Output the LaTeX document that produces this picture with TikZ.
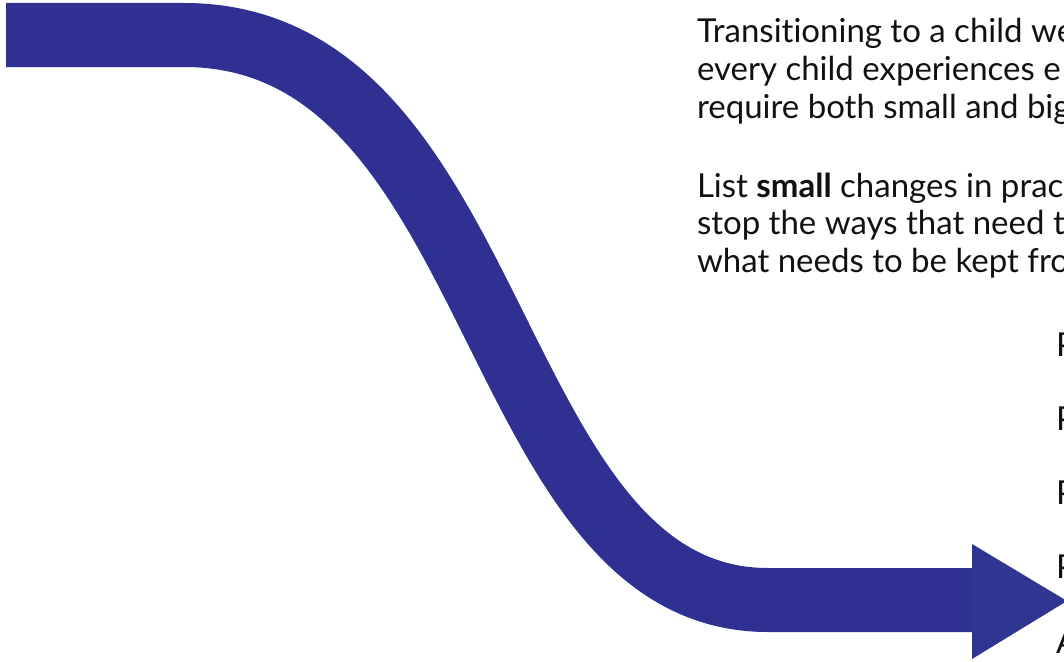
\documentclass[tikz,border=0pt]{standalone}
\usepackage{fontspec}
\setmainfont[Ligatures=NoCommon]{Lato}
\definecolor{band}{HTML}{2E3192}
\definecolor{head}{HTML}{2E3692}
\definecolor{ink}{HTML}{111111}
\begin{document}
\begin{tikzpicture}[x=1pt,y=-1pt,
  txt/.style={anchor=base west,inner sep=0pt,outer sep=0pt,text=ink,font=\fontsize{33}{39}\selectfont},
  side/.style={txt}]
\useasboundingbox (0,0) rectangle (1064,661);
% the S-shaped band
\coordinate (s0) at (6,35);
\coordinate (s1) at (184,35);
\coordinate (s2) at (768,600);
\coordinate (s3) at (973,600);
\draw[band,line width=64pt,line cap=butt] (s0) -- (s1) .. controls (505,35) and (485,600) .. (s2) -- (s3);
% arrow head
\coordinate (h1) at (972,544);
\coordinate (h2) at (1067,601);
\coordinate (h3) at (972,659);
\fill[head] (h1) -- (h2) -- (h3) -- cycle;
% text
\node[txt] (l1) at (697,43) {Transitioning to a child we};
\node[txt] (l2) at (697,80.5) {every child experiences e};
\node[txt] (l3) at (697,118) {require both small and big};
\node[txt] (l4) at (697,197) {List \textbf{small} changes in prac};
\node[txt] (l5) at (697,234.5) {stop the ways that need t};
\node[txt] (l6) at (697,272) {what needs to be kept fro};
\node[side] (p1) at (1056,356) {P};
\node[side] (p2) at (1056,430) {P};
\node[side] (p3) at (1056,504) {P};
\node[side] (p4) at (1056,578) {P};
\node[side] (p5) at (1056,653) {A};
\end{tikzpicture}
\end{document}
